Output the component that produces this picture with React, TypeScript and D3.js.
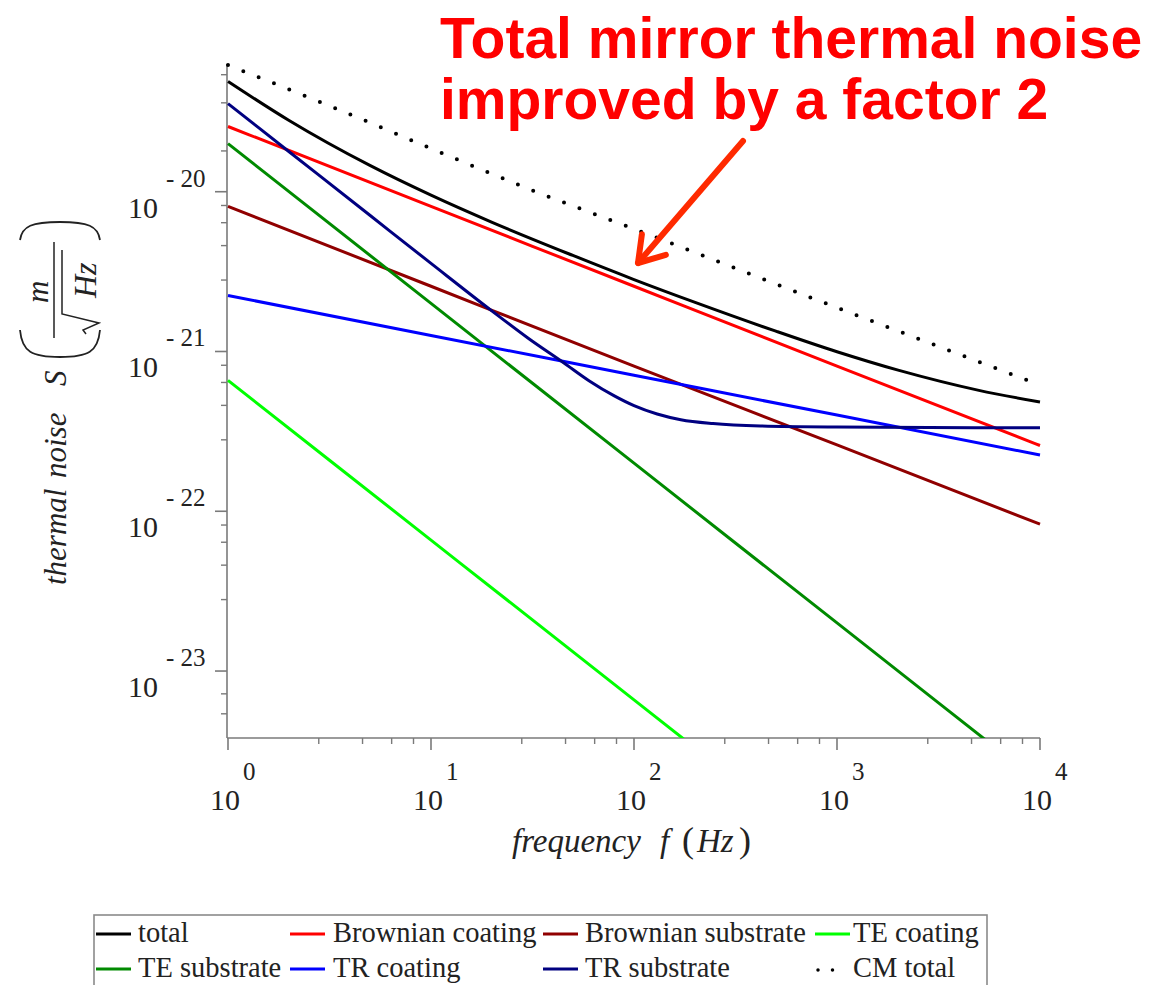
import React from "react";
import * as d3 from "d3";

// ---------- data ----------
const xMajorTicks = [1, 10, 100, 1000, 10000];
const xMajorExponents = ["0", "1", "2", "3", "4"];
const minorMultipliers = [2.8, 4.6, 6.4, 8.2];
const xMinorDecades = [1, 10, 100, 1000];

const yMajorTicks = [1e-20, 1e-21, 1e-22, 1e-23];
const yMajorExponents = ["- 20", "- 21", "- 22", "- 23"];
const yMinorTicks = [
  5.4e-24, 7.2e-24,
  2.8e-23, 4.6e-23, 6.4e-23, 8.2e-23,
  2.8e-22, 4.6e-22, 6.4e-22, 8.2e-22,
  2.8e-21, 4.6e-21, 6.4e-21, 8.2e-21,
  1.8e-20, 3.6e-20, 5.4e-20,
];

const decadeFreqs = [1, 10, 100, 1000, 10000];

const brownianCoating = [2.56e-20, 8.1e-21, 2.56e-21, 8.1e-22, 2.58e-22];
const brownianSubstrate = [8.1e-21, 2.56e-21, 8.1e-22, 2.6e-22, 8.3e-23];
const teCoating = [6.6e-22, 6.6e-23, 6.6e-24, 6.6e-25, 6.6e-26];
const teSubstrate = [2.0e-20, 2.0e-21, 2.0e-22, 2.0e-23, 2.0e-24];
const trCoating = [2.24e-21, 1.26e-21, 7.1e-22, 4.0e-22, 2.25e-22];

const trSubstrateFreqs = [1, 2, 5, 10, 20, 30, 45, 60, 80, 100, 130, 170, 245, 420, 1000, 10000];
const trSubstrate = [
  3.56e-20, 1.78e-20, 7.12e-21, 3.56e-21, 1.79e-21, 1.214e-21, 8.5e-22, 6.56e-22,
  5.27e-22, 4.58e-22, 4.06e-22, 3.74e-22, 3.54e-22, 3.42e-22, 3.37e-22, 3.33e-22,
];

const totalFreqs = [1, 2, 5, 10, 20, 50, 100, 200, 500, 1000, 2000, 5000, 10000];
const totalNoise = [
  4.9e-20, 2.79e-20, 1.46e-20, 9.51e-21, 6.43e-21, 3.99e-21, 2.82e-21,
  2.03e-21, 1.34e-21, 9.96e-22, 7.64e-22, 5.71e-22, 4.83e-22,
];

const cmFreqs = [1, 3.16, 10, 31.6, 100, 316, 1000, 3162, 10000];
const cmTotal = [6.2e-20, 3.45e-20, 1.865e-20, 1.02e-20, 5.85e-21, 3.32e-21, 1.88e-21, 1.075e-21, 6.17e-22];

const seriesNames = [
  "total", "Brownian coating", "Brownian substrate", "TE coating",
  "TE substrate", "TR coating", "TR substrate", "CM total",
];
const seriesColors = [
  "#000000", "#ff0000", "#900000", "#00ff00",
  "#008a00", "#0000ff", "#000080", "#000000",
];

const titleLines = ["Total mirror thermal noise", "improved by a factor 2"];

// ---------- component ----------
export default function App() {
  const W = 1158, H = 985;
  const x = d3.scaleLog().domain([1, 1e4]).range([228, 1040]);
  const y = d3.scaleLog().domain([3.81e-24, 6.3e-20]).range([738, 64]);

  const line = d3
    .line<[number, number]>()
    .x((d) => x(d[0]))
    .y((d) => y(d[1]))
    .curve(d3.curveMonotoneX);

  const zip = (fs: number[], vs: number[]) => fs.map((f, i) => [f, vs[i]] as [number, number]);

  const series = [
    { data: zip(totalFreqs, totalNoise) },
    { data: zip(decadeFreqs, brownianCoating) },
    { data: zip(decadeFreqs, brownianSubstrate) },
    { data: zip(decadeFreqs, teCoating) },
    { data: zip(decadeFreqs, teSubstrate) },
    { data: zip(decadeFreqs, trCoating) },
    { data: zip(trSubstrateFreqs, trSubstrate) },
    { data: zip(cmFreqs, cmTotal), dotted: true },
  ];

  const serif = "'Liberation Serif', 'Times New Roman', serif";
  const axisColor = "#7a7a7a";
  const textColor = "#222";

  const xMinor = xMinorDecades.flatMap((d) => minorMultipliers.map((m) => d * m));

  const axisY = 738;
  const axisX = 227;

  const legendColsLine = [96, 290, 543, 815];
  const legendColsText = [138, 333, 585, 853];
  const legendRows = [934, 969];

  // arrow
  const tail = [743, 141];
  const tip = [638, 263];
  const dx = tail[0] - tip[0], dy = tail[1] - tip[1];
  const len = Math.hypot(dx, dy);
  const ux = dx / len, uy = dy / len;
  const ang = (33 * Math.PI) / 180;
  const bl = 29;
  const barb = (s: number) => [
    tip[0] + bl * (ux * Math.cos(s * ang) - uy * Math.sin(s * ang)),
    tip[1] + bl * (ux * Math.sin(s * ang) + uy * Math.cos(s * ang)),
  ];
  const b1 = barb(1), b2 = barb(-1);

  return (
    <svg width={W} height={H} style={{ position: "absolute", left: 0, top: 0, background: "#fff" }}>
      <defs>
        <clipPath id="plotClip">
          <rect x={222} y={58} width={822} height={680} />
        </clipPath>
      </defs>

      {/* axes */}
      <line x1={axisX} y1={y.range()[1]} x2={axisX} y2={axisY} stroke={axisColor} strokeWidth={1.6} />
      <line x1={axisX} y1={axisY} x2={x(1e4)} y2={axisY} stroke={axisColor} strokeWidth={1.6} />

      {yMajorTicks.map((t) => (
        <line key={"ym" + t} x1={axisX - 12} x2={axisX} y1={y(t)} y2={y(t)} stroke={axisColor} strokeWidth={1.6} />
      ))}
      {yMinorTicks.map((t) => (
        <line key={"yn" + t} x1={axisX - 6} x2={axisX} y1={y(t)} y2={y(t)} stroke={axisColor} strokeWidth={1.4} />
      ))}
      {xMajorTicks.map((t) => (
        <line key={"xm" + t} x1={x(t)} x2={x(t)} y1={axisY} y2={axisY + 12} stroke={axisColor} strokeWidth={1.6} />
      ))}
      {xMinor.map((t) => (
        <line key={"xn" + t} x1={x(t)} x2={x(t)} y1={axisY} y2={axisY + 6} stroke={axisColor} strokeWidth={1.4} />
      ))}

      {/* y tick labels */}
      {yMajorTicks.map((t, i) => (
        <g key={"yl" + t} fill={textColor} fontFamily={serif}>
          <text x={128} y={y(t) + 26} fontSize={30}>10</text>
          <text x={166} y={y(t) - 5} fontSize={25}>{yMajorExponents[i]}</text>
        </g>
      ))}
      {/* x tick labels */}
      {xMajorTicks.map((t, i) => (
        <g key={"xl" + t} fill={textColor} fontFamily={serif}>
          <text x={x(t) - 18} y={810} fontSize={30}>10</text>
          <text x={x(t) + 15} y={780} fontSize={25}>{xMajorExponents[i]}</text>
        </g>
      ))}

      {/* x axis title */}
      <g fill={textColor} fontFamily={serif} fontSize={33}>
        <text x={512} y={852} fontStyle="italic">frequency</text>
        <text x={660} y={852} fontStyle="italic">f</text>
        <text x={682} y={852} fontSize={36}>(</text>
        <text x={697} y={852} fontStyle="italic">Hz</text>
        <text x={739} y={852} fontSize={36}>)</text>
      </g>

      {/* y axis title (rotated) */}
      <g transform="rotate(-90)" fill={textColor} fontFamily={serif} fontSize={31}>
        <text x={-585} y={66} fontStyle="italic">thermal</text>
        <text x={-478} y={66} fontStyle="italic">noise</text>
        <text x={-386} y={66} fontStyle="italic">S</text>
        <path d="M -330 20 C -352 22 -357 32 -357 60 C -357 88 -352 98 -330 100" fill="none" stroke={textColor} strokeWidth={1.8} />
        <path d="M -240 20 C -226 22 -222 32 -222 60 C -222 88 -226 98 -240 100" fill="none" stroke={textColor} strokeWidth={1.8} />
        <text x={-303} y={48} fontStyle="italic">m</text>
        <line x1={-338} x2={-242} y1={54} y2={54} stroke={textColor} strokeWidth={1.5} />
        <path d="M -334 86 L -330 83 L -323 99 L -314 62 L -250 62" fill="none" stroke={textColor} strokeWidth={1.5} />
        <text x={-298} y={96} fontStyle="italic" fontSize={32}>Hz</text>
      </g>

      {/* series */}
      <g clipPath="url(#plotClip)">
        {series.map((s, i) => (
          <path
            key={seriesNames[i]}
            d={line(s.data) || ""}
            fill="none"
            stroke={seriesColors[i]}
            strokeWidth={s.dotted ? 4 : 3}
            strokeDasharray={s.dotted ? "0 16.5" : undefined}
            strokeLinecap={s.dotted ? "round" : "butt"}
          />
        ))}
      </g>

      {/* title */}
      <g fill="#ff0000" fontFamily="'Liberation Sans', Arial, sans-serif" fontWeight="bold" fontSize={57}>
        <text x={440} y={58}>{titleLines[0]}</text>
        <text x={440} y={119}>{titleLines[1]}</text>
      </g>

      {/* arrow */}
      <g stroke="#ff2a00" strokeWidth={6} strokeLinecap="round" strokeLinejoin="round" fill="none">
        <line x1={tail[0]} y1={tail[1]} x2={tip[0]} y2={tip[1]} />
        <polyline points={`${b1[0]},${b1[1]} ${tip[0]},${tip[1]} ${b2[0]},${b2[1]}`} />
      </g>

      {/* legend */}
      <rect x={94} y={915} width={893} height={90} fill="#fff" stroke="#8a8a8a" strokeWidth={1.6} />
      {seriesNames.map((name, i) => {
        const col = i % 4;
        const row = Math.floor(i / 4);
        const ly = legendRows[row];
        const lx = legendColsLine[col];
        const dotted = i === 7;
        return (
          <g key={"lg" + name}>
            {dotted ? (
              <line x1={lx + 3} x2={lx + 32} y1={ly + 1} y2={ly + 1} stroke={seriesColors[i]} strokeWidth={3.5} strokeDasharray="0 14.5" strokeLinecap="round" />
            ) : (
              <line x1={lx} x2={lx + 35} y1={ly} y2={ly} stroke={seriesColors[i]} strokeWidth={3} />
            )}
            <text x={legendColsText[col]} y={ly + 8} fontFamily={serif} fontSize={28.5} fill={textColor}>
              {name}
            </text>
          </g>
        );
      })}
    </svg>
  );
}
